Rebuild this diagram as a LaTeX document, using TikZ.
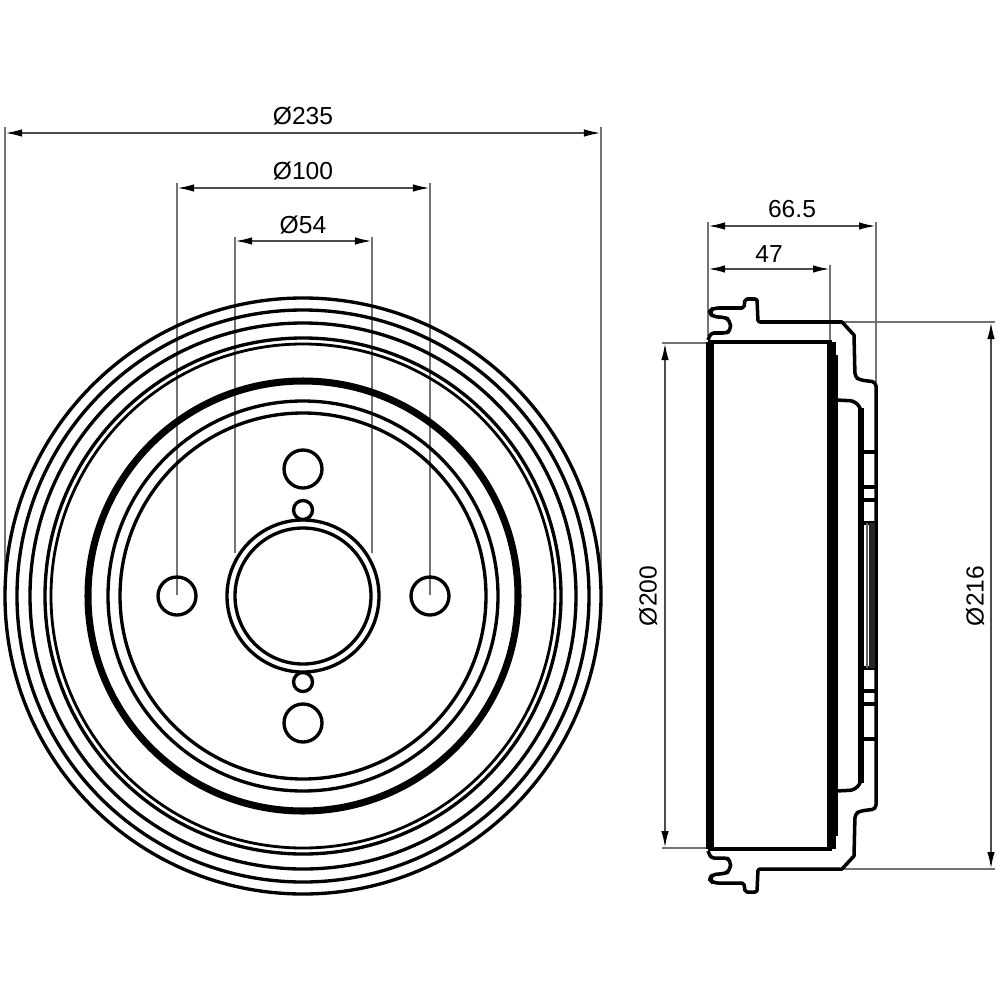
\documentclass[tikz,border=0pt]{standalone}
\usepackage{fontspec}
\setmainfont{Liberation Sans}
\usetikzlibrary{arrows.meta}
\tikzset{
  ring/.style={line width=.95pt,black},
  extline/.style={line width=.55pt,black!55},
  dimline/.style={line width=.55pt,black!70,{Latex[length=1.7mm,width=.75mm,black]}-{Latex[length=1.7mm,width=.75mm,black]}},
  dimlabel/.style={font=\fontsize{7}{8}\selectfont,inner sep=0pt,black},
  profile/.style={line width=1pt,black,line join=round},
}
% upper half of the side view, the lower half is the same path mirrored
\newcommand{\flangeprofile}{
  \draw[profile] (708,340) [rounded corners=.3mm] -- (711,333) -- (726,333) [rounded corners=.5mm] -- (731,331) -- (730,320) -- (724,317) -- (713,317) -- (709,312) -- (713,308) [rounded corners=.2mm] -- (744,308) -- (745,299) -- (757,299) -- (758,322) [sharp corners] -- (842,322) -- (854,335) [rounded corners=.4mm] -- (855,377) -- (860,380) -- (876,382) [sharp corners] -- (876,596);
  \draw[line width=1pt] (708,342) -- (832,342);
  \draw[line width=1pt,rounded corners=.6mm] (836,400) -- (856,401) -- (861,410);
  \draw[line width=.9pt] (861,452) -- (876,452);
  \draw[line width=.9pt] (861,487) -- (876,487);
  \draw[line width=.9pt] (861,500) -- (876,500);
  \draw[line width=1.3pt] (864,523) -- (876,523);
  \draw[line width=1pt] (836,355) -- (836,596);
}
\begin{document}
\begin{tikzpicture}[x=.01cm,y=-.01cm]
  \useasboundingbox (0,0) rectangle (1000,1000);

  % extension lines, front view
  \draw[extline] (5,127) -- (5,590);
  \draw[extline] (601,127) -- (601,590);
  \draw[extline] (177,183) -- (177,595);
  \draw[extline] (430,183) -- (430,595);
  \draw[extline] (235,237) -- (235,553);
  \draw[extline] (372,237) -- (372,553);

  % drum rings
  \draw[ring] (303,596) circle (298);
  \draw[ring] (303,596) circle (286);
  \draw[ring] (303,596) circle (273);
  \draw[ring] (303,596) circle (258);
  \draw[ring,line width=.8pt] (303,596) circle (252);
  \draw[ring,line width=2pt] (303,596) circle (215);
  \draw[ring] (303,596) circle (195);
  \draw[ring] (303,596) circle (183);
  \draw[ring] (303,596) circle (76);
  \draw[ring] (303,596) circle (68);

  % bolt holes
  \draw[ring] (177,596) circle (19);
  \draw[ring] (430,596) circle (19);
  \draw[ring] (303,469) circle (19);
  \draw[ring] (303,723) circle (19);
  \draw[ring] (303,510) circle (9.5);
  \draw[ring] (303,682) circle (9.5);

  % front view dimensions
  \coordinate (d235a) at (5,133);
  \coordinate (d235b) at (601,133);
  \coordinate (d100a) at (177,188);
  \coordinate (d100b) at (430,188);
  \coordinate (d54a) at (235,241);
  \coordinate (d54b) at (372,241);
  \draw[dimline] (d235a) -- (d235b);
  \draw[dimline] (d100a) -- (d100b);
  \draw[dimline] (d54a) -- (d54b);
  \node[dimlabel] (l235) at (303,116) {Ø235};
  \node[dimlabel] (l100) at (303,171) {Ø100};
  \node[dimlabel] (l54) at (303,225) {Ø54};

  % side view extension lines
  \draw[extline] (708,222) -- (708,336);
  \draw[extline] (876,222) -- (876,382);
  \draw[extline] (830,265) -- (830,340);
  \draw[extline] (662,343) -- (708,343);
  \draw[extline] (662,848) -- (708,848);
  \draw[extline] (842,322) -- (995,322);
  \draw[extline] (842,869) -- (995,869);

  % side view
  \flangeprofile
  \begin{scope}[shift={(0,1191)},yscale=-1]
    \flangeprofile
  \end{scope}
  \draw[line width=2pt] (710,342) -- (710,849);
  \draw[line width=2.3pt] (831.5,342) -- (831.5,849);
  \draw[line width=1.7pt] (861,408) -- (861,783);
  \draw[line width=.5pt,black!60] (867,523) -- (867,668);
  \draw[line width=1.8pt,black!85] (872,523) -- (872,668);

  % side view dimensions
  \coordinate (d665a) at (708,226);
  \coordinate (d665b) at (876,226);
  \coordinate (d47a) at (708,269);
  \coordinate (d47b) at (830,269);
  \coordinate (d200a) at (665,343);
  \coordinate (d200b) at (665,848);
  \coordinate (d216a) at (991,322);
  \coordinate (d216b) at (991,869);
  \draw[dimline] (d665a) -- (d665b);
  \draw[dimline] (d47a) -- (d47b);
  \draw[dimline] (d200a) -- (d200b);
  \draw[dimline] (d216a) -- (d216b);
  \node[dimlabel] (l665) at (792,209) {66.5};
  \node[dimlabel] (l47) at (769,254) {47};
  \node[dimlabel,rotate=90] (l200) at (648,596) {Ø200};
  \node[dimlabel,rotate=90] (l216) at (975,596) {Ø216};
\end{tikzpicture}
\end{document}
